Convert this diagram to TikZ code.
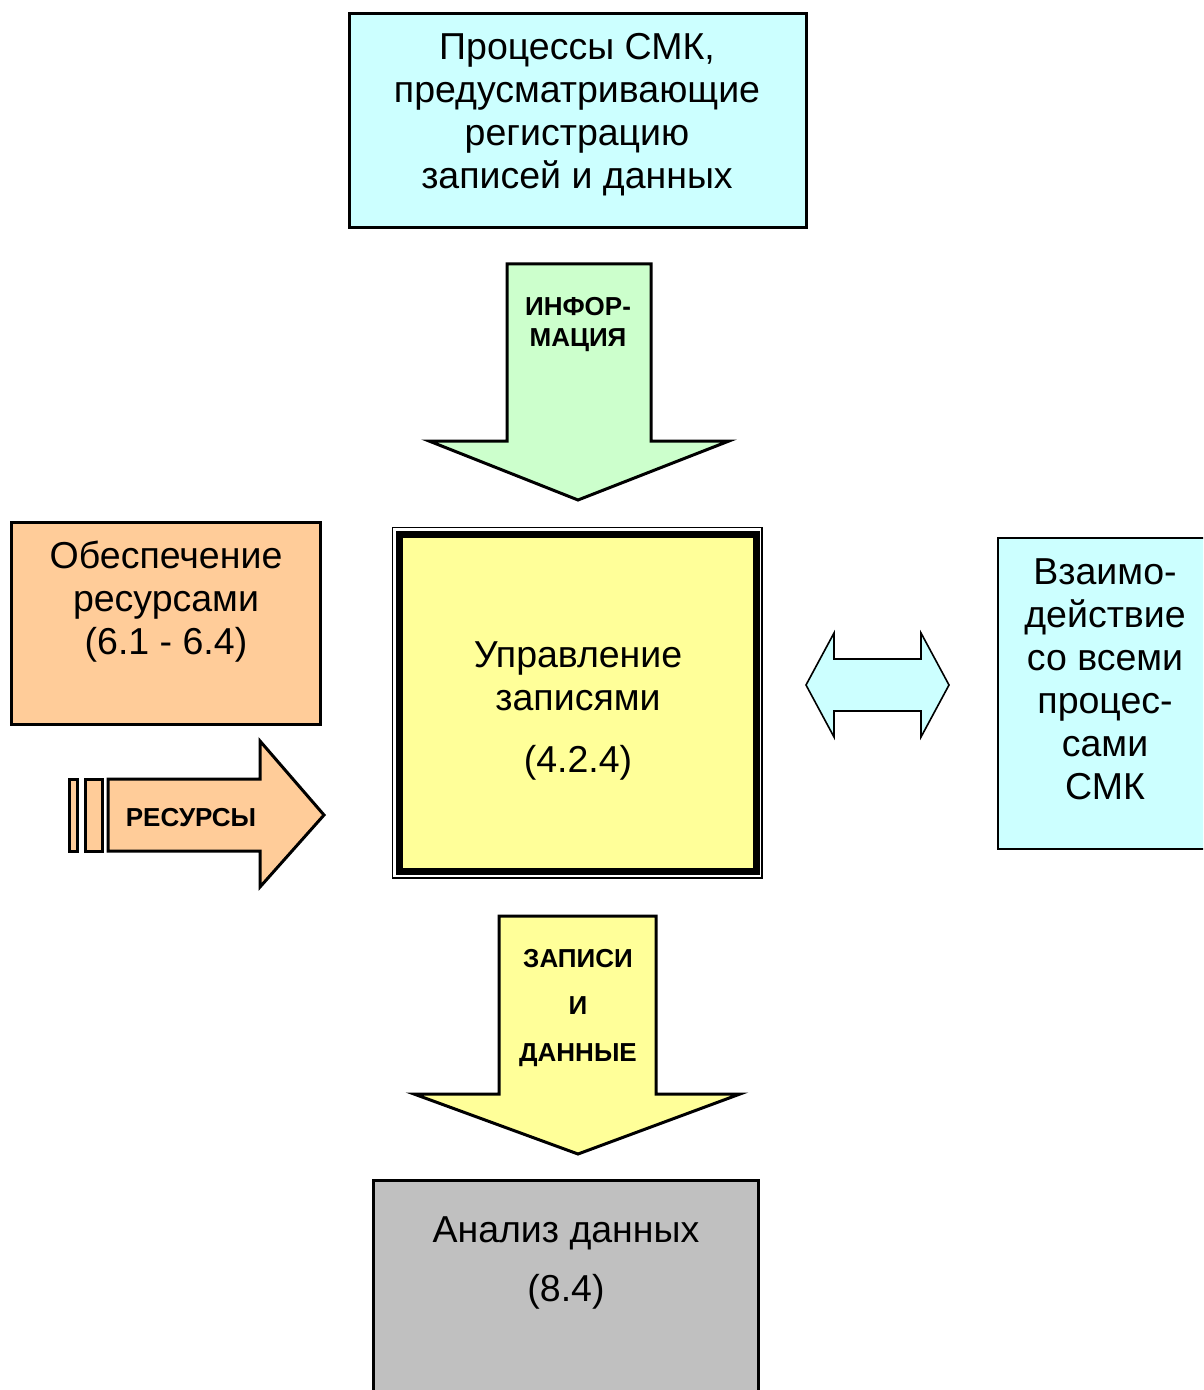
\documentclass[tikz,border=0pt]{standalone}
\usepackage{fontspec}
\setmainfont{Liberation Sans}
\definecolor{cyanL}{HTML}{CCFFFF}
\definecolor{greenL}{HTML}{CCFFCC}
\definecolor{peach}{HTML}{FFCC99}
\definecolor{yellowL}{HTML}{FFFF99}
\definecolor{grayL}{HTML}{C0C0C0}
\begin{document}
\begin{tikzpicture}[x=0.5pt,y=-0.5pt,
  box/.style={draw=black, line width=1.5pt, inner sep=0pt},
  thinbox/.style={draw=black, line width=1pt, inner sep=0pt},
  big/.style={font=\fontsize{18.75}{21.5}\selectfont, align=center, inner sep=0pt},
  lbl/.style={font=\bfseries\fontsize{13}{15.5}\selectfont, align=center, inner sep=0pt},
  fat/.style={draw=black, line width=1.5pt, line join=miter},
  slim/.style={draw=black, line width=0.8pt, line join=miter}]
\useasboundingbox (0,0) rectangle (1203,1390);
\clip (0,0) rectangle (1203,1390);
\fill[white] (0,0) rectangle (1203,1390);

% boxes
\node[box, fill=cyanL, minimum width=228.5pt, minimum height=107pt] (top) at (577.5,121) {};
\node[box, fill=peach, minimum width=154.5pt, minimum height=101pt] (left) at (165.5,623) {};
\node[draw=black, line width=0.75pt, inner sep=0pt, minimum width=184.75pt, minimum height=175.25pt] (outer) at (577.25,702.75) {};
\node[draw=black, line width=3.5pt, fill=yellowL, inner sep=0pt, minimum width=178.25pt, minimum height=168.5pt] (center) at (577.75,703) {};
\node[thinbox, fill=cyanL, minimum width=107pt, minimum height=155.5pt] (right) at (1105,693.5) {};
\node[box, fill=grayL, minimum width=192.5pt, minimum height=115pt] (bottom) at (565.5,1295) {};

% block arrows
\draw[fat, fill=greenL] (507,264) -- (651,264) -- (651,441) -- (729,441) -- (578,500) -- (429,441) -- (507,441) -- cycle;
\draw[fat, fill=yellowL] (499,916) -- (656,916) -- (656,1094) -- (740,1094) -- (578,1154) -- (414,1094) -- (499,1094) -- cycle;
\draw[fat, fill=peach] (108,779) -- (260,779) -- (260,741) -- (324,815) -- (260,887) -- (260,851) -- (108,851) -- cycle;
\draw[fat, fill=peach] (69,779) rectangle (77,851);
\draw[fat, fill=peach] (85,779) rectangle (102,851);
\draw[slim, fill=cyanL] (806,685) -- (834,633) -- (834,659) -- (921,659) -- (921,633) -- (949,685) -- (921,737) -- (921,711) -- (834,711) -- (834,737) -- cycle;

% texts
\node[big] (topt) at (577,115) {Процессы СМК,\\предусматривающие\\регистрацию\\записей и данных};
\node[big] (leftt) at (166,602) {Обеспечение\\ресурсами\\(6.1 - 6.4)};
\node[big] (cent) at (578,711) {Управление\\записями\\[9.5pt](4.2.4)};
\node[big] (rightt) at (1105,679) {Взаимо-\\действие\\со всеми\\процес-\\сами\\СМК};
\node[big] (bott) at (566,1263) {Анализ данных\\[8pt](8.4)};
\node[lbl] (infot) at (578,325) {ИНФОР-\\МАЦИЯ};
\node[lbl] (rest) at (191,818) {РЕСУРСЫ};
\node[lbl, font=\bfseries\fontsize{13}{23.5}\selectfont] (rect) at (578,1008) {ЗАПИСИ\\И\\ДАННЫЕ};
\end{tikzpicture}
\end{document}
